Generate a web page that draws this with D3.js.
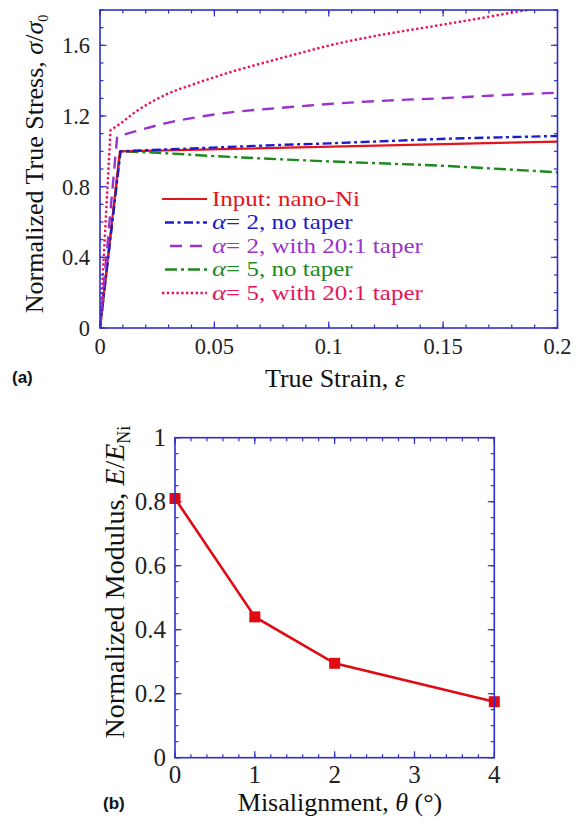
<!DOCTYPE html>
<html>
<head>
<meta charset="utf-8">
<script src="https://cdn.jsdelivr.net/npm/d3@7"></script>
<style>
html,body{margin:0;padding:0;background:#fff;}
svg{display:block;}
</style>
</head>
<body>
<svg id="chart" width="583" height="827"></svg>
<script>
// ---------- Data: panel (a) ----------
const strainRed = [0, 0.0087, 0.2];
const stressRed = [0, 1.0, 1.055];

const strainBlue = [0, 0.009, 0.02, 0.04, 0.06, 0.0787, 0.1, 0.12, 0.1486, 0.175, 0.2];
const stressBlue = [0, 1.0, 1.006, 1.016, 1.027, 1.036, 1.045, 1.055, 1.07, 1.079, 1.087];

const strainPurple = [0, 0.0075, 0.0146, 0.029, 0.0437, 0.058, 0.073, 0.0874, 0.1, 0.125, 0.1486, 0.175, 0.2];
const stressPurple = [0, 1.083, 1.11, 1.16, 1.196, 1.222, 1.24, 1.255, 1.268, 1.287, 1.3, 1.318, 1.332];

const strainGreen = [0, 0.0088, 0.02, 0.05, 0.0787, 0.11, 0.1486, 0.175, 0.2];
const stressGreen = [0, 1.0, 0.995, 0.973, 0.955, 0.938, 0.919, 0.9, 0.881];

const strainPink = [0, 0.0046, 0.0087, 0.0146, 0.0219, 0.029, 0.0437, 0.058, 0.073, 0.0874, 0.1005, 0.1224, 0.1442, 0.1661, 0.1865, 0.2];
const stressPink = [0, 1.12, 1.155, 1.215, 1.275, 1.322, 1.392, 1.452, 1.506, 1.556, 1.6, 1.658, 1.705, 1.753, 1.8, 1.83];

const legendLabelsA = ["Input: nano-Ni", "= 2, no taper", "= 2, with 20:1 taper", "= 5, no taper", "= 5, with 20:1 taper"];
const xTicksA = [0, 0.05, 0.1, 0.15, 0.2];
const xTickLabelsA = ["0", "0.05", "0.1", "0.15", "0.2"];
const yTicksA = [0, 0.4, 0.8, 1.2, 1.6];
const yTickLabelsA = ["0", "0.4", "0.8", "1.2", "1.6"];

// ---------- Data: panel (b) ----------
const theta = [0, 1, 2, 4];
const modulus = [0.81, 0.44, 0.295, 0.175];
const xTicksB = [0, 1, 2, 3, 4];
const xTickLabelsB = ["0", "1", "2", "3", "4"];
const yTicksB = [0, 0.2, 0.4, 0.6, 0.8, 1];
const yTickLabelsB = ["0", "0.2", "0.4", "0.6", "0.8", "1"];

// ---------- Drawing ----------
const SERIF = "font-family:'Liberation Serif','Times New Roman',Times,serif;";
const SANS = "font-family:'Liberation Sans',Arial,Helvetica,sans-serif;font-weight:bold;";
const svg = d3.select("#chart");
const frameColor = "#2e2ed0";

function frameAxes(g, x, y, majX, minX, majY, minY, xLab, yLab, opts) {
  const [x0, x1] = x.range();
  const [y0, y1] = y.range();
  const MAJ = 6.5, MIN = 3.5;
  const tick = (a, b, c, d) => g.append("line").attr("x1", a).attr("x2", b).attr("y1", c).attr("y2", d)
    .attr("stroke", frameColor).attr("stroke-width", 1.2);
  minX.forEach(v => { const px = x(v); tick(px, px, y0, y0 - MIN); tick(px, px, y1, y1 + MIN); });
  majX.forEach(v => { const px = x(v); tick(px, px, y0, y0 - MAJ); tick(px, px, y1, y1 + MAJ); });
  minY.forEach(v => { const py = y(v); tick(x0, x0 + MIN, py, py); tick(x1, x1 - MIN, py, py); });
  majY.forEach(v => { const py = y(v); tick(x0, x0 + MAJ, py, py); tick(x1, x1 - MAJ, py, py); });
  majX.forEach((v, i) => {
    g.append("text").attr("x", x(v)).attr("y", y0 + opts.xLabDy).attr("text-anchor", "middle")
      .attr("style", SERIF + "font-size:" + opts.tickFs + "px").attr("fill", "#222").text(xLab[i]);
  });
  majY.forEach((v, i) => {
    g.append("text").attr("x", x0 - opts.yLabDx).attr("y", y(v)).attr("dy", "0.35em").attr("text-anchor", "end")
      .attr("style", SERIF + "font-size:" + opts.tickFs + "px").attr("fill", "#222").text(yLab[i]);
  });
}

function frameRect(g, x, y) {
  const [x0, x1] = x.range();
  const [y0, y1] = y.range();
  g.append("rect").attr("x", x0).attr("y", y1).attr("width", x1 - x0).attr("height", y0 - y1)
    .attr("fill", "none").attr("stroke", frameColor).attr("stroke-width", 1.6);
}

// ===== Panel (a) =====
const xA = d3.scaleLinear().domain([0, 0.2]).range([100, 557.5]);
const yA = d3.scaleLinear().domain([0, 1.8]).range([328, 10]);
const gA = svg.append("g");

svg.append("defs").append("clipPath").attr("id", "clipA")
  .append("rect").attr("x", 100).attr("y", 10).attr("width", 457.5).attr("height", 318);

const seriesA = [
  {xs: strainRed, ys: stressRed, color: "#e5131b", dash: null, w: 2.2},
  {xs: strainBlue, ys: stressBlue, color: "#1c1cc8", dash: "9,3.5,3,3.5", w: 2.4},
  {xs: strainPurple, ys: stressPurple, color: "#9933cc", dash: "12,8", w: 2.4},
  {xs: strainGreen, ys: stressGreen, color: "#1e8a1e", dash: "12,4,3,4", w: 2.4},
  {xs: strainPink, ys: stressPink, color: "#e8145a", dash: "2.4,2.4", w: 2.4}
];
const lineGen = d3.line().x(d => d[0]).y(d => d[1]);
const smoothGen = d3.line().x(d => d[0]).y(d => d[1]).curve(d3.curveMonotoneX);
const plotA = gA.append("g").attr("clip-path", "url(#clipA)");
[3, 0, 1, 2, 4].forEach(i => {
  const s = seriesA[i];
  const pts = s.xs.map((v, k) => [xA(v), yA(s.ys[k])]);
  // elastic segment straight, plastic part smooth
  const d = lineGen(pts.slice(0, 2)) + smoothGen(pts.slice(1)).replace(/^M[^LC]*/, "");
  const p = plotA.append("path").attr("d", d).attr("fill", "none")
    .attr("stroke", s.color).attr("stroke-width", s.w).attr("stroke-linejoin", "round");
  if (s.dash) p.attr("stroke-dasharray", s.dash);
});

frameAxes(gA, xA, yA, xTicksA, d3.range(0, 0.2001, 0.01), yTicksA, d3.range(0, 1.8001, 0.1),
  xTickLabelsA, yTickLabelsA, {xLabDy: 26, yLabDx: 10, tickFs: 22.5});
frameRect(gA, xA, yA);

// legend (a)
const legX1 = 207, legTextX = 212, legY0 = 199, legDy = 23.5;
seriesA.forEach((s, i) => {
  const yy = legY0 + i * legDy;
  const startX = i === 2 ? 170 : (i === 1 || i === 3 ? 165 : 162);
  const l = gA.append("line").attr("x1", startX).attr("x2", legX1).attr("y1", yy).attr("y2", yy)
    .attr("stroke", s.color).attr("stroke-width", s.w);
  if (s.dash) l.attr("stroke-dasharray", s.dash);
  const t = gA.append("text").attr("transform", `translate(${legTextX},${yy + 6.5}) scale(1.22,1)`)
    .attr("style", SERIF + "font-size:20.5px").attr("fill", s.color);
  if (i === 0) {
    t.text(legendLabelsA[i]);
  } else {
    t.append("tspan").attr("style", "font-style:italic;font-size:22px").text("α");
    t.append("tspan").text(legendLabelsA[i]);
  }
});

// axis titles (a)
const xTitleA = gA.append("text").attr("x", 335).attr("y", 387).attr("text-anchor", "middle")
  .attr("style", SERIF + "font-size:26px").attr("fill", "#111");
xTitleA.append("tspan").text("True Strain, ");
xTitleA.append("tspan").attr("font-style", "italic").text("ε");

const yTitleA = gA.append("text").attr("transform", "translate(43,164) rotate(-90)").attr("text-anchor", "middle")
  .attr("style", SERIF + "font-size:26px").attr("fill", "#111");
yTitleA.append("tspan").text("Normalized True Stress, ");
yTitleA.append("tspan").attr("font-style", "italic").text("σ");
yTitleA.append("tspan").text("/");
yTitleA.append("tspan").attr("font-style", "italic").text("σ");
yTitleA.append("tspan").attr("font-size", 14).attr("dy", 5).text("0");

svg.append("text").attr("x", 12).attr("y", 383).attr("style", SANS + "font-size:17px").attr("fill", "#111").text("(a)");

// ===== Panel (b) =====
const xB = d3.scaleLinear().domain([0, 4]).range([175, 494.3]);
const yB = d3.scaleLinear().domain([0, 1]).range([757.7, 437.7]);
const gB = svg.append("g");

frameAxes(gB, xB, yB, xTicksB, d3.range(0, 4.001, 0.2), yTicksB, d3.range(0, 1.001, 0.05),
  xTickLabelsB, yTickLabelsB, {xLabDy: 25, yLabDx: 9, tickFs: 25});

const ptsB = theta.map((v, k) => [xB(v), yB(modulus[k])]);
gB.append("path").attr("d", lineGen(ptsB)).attr("fill", "none").attr("stroke", "#e00a12").attr("stroke-width", 2.6);
gB.selectAll("rect.mk").data(ptsB).enter().append("rect").attr("class", "mk")
  .attr("x", d => d[0] - 5.5).attr("y", d => d[1] - 5.5).attr("width", 11).attr("height", 11).attr("fill", "#e00a12");
frameRect(gB, xB, yB);

const xTitleB = gB.append("text").attr("x", 340).attr("y", 811).attr("text-anchor", "middle")
  .attr("style", SERIF + "font-size:26px").attr("fill", "#111");
xTitleB.append("tspan").text("Misalignment, ");
xTitleB.append("tspan").attr("font-style", "italic").text("θ");
xTitleB.append("tspan").text(" (°)");

const yTitleB = gB.append("text").attr("transform", "translate(124,582) rotate(-90)").attr("text-anchor", "middle")
  .attr("style", SERIF + "font-size:28px").attr("fill", "#111");
yTitleB.append("tspan").text("Normalized Modulus, ");
yTitleB.append("tspan").attr("font-style", "italic").text("E");
yTitleB.append("tspan").text("/");
yTitleB.append("tspan").attr("font-style", "italic").text("E");
yTitleB.append("tspan").attr("font-size", 18).attr("dy", 6).text("Ni");

svg.append("text").attr("x", 103).attr("y", 809).attr("style", SANS + "font-size:17px").attr("fill", "#111").text("(b)");
</script>
</body>
</html>
